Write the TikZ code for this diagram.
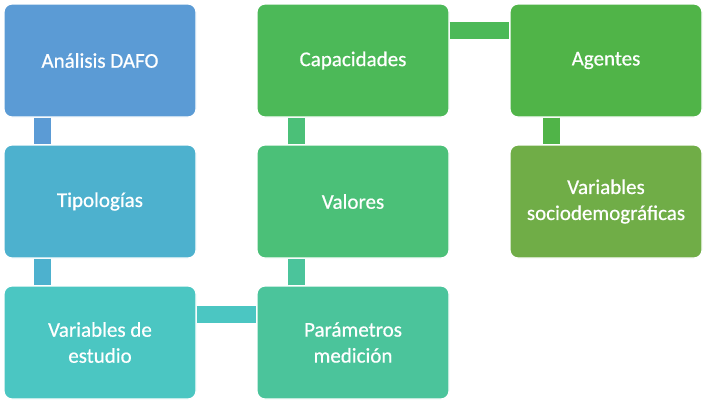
\documentclass[tikz,border=0pt]{standalone}
\usepackage{fontspec}
\setmainfont{Carlito}
\newfontfamily\boxfont{Carlito}[FakeBold=0.6]
\definecolor{cA}{HTML}{5B9BD5}
\definecolor{cB}{HTML}{4DB1CE}
\definecolor{cC}{HTML}{4BC6C2}
\definecolor{cD}{HTML}{4BC49B}
\definecolor{cE}{HTML}{4BC078}
\definecolor{cF}{HTML}{4CB958}
\definecolor{cG}{HTML}{50B448}
\definecolor{cH}{HTML}{70AD47}
\tikzset{
  box/.style={rectangle, rounded corners=8pt, draw=white, line width=1.2pt,
    minimum width=192pt, minimum height=113pt, inner sep=0pt,
    text=white, align=center, font=\boxfont\fontsize{21}{26}\selectfont},
  link/.style={line width=17pt}
}
\begin{document}
\begin{tikzpicture}[x=1pt,y=-1pt]
\useasboundingbox (0,0) rectangle (703,399);
\fill[white] (0,0) rectangle (703,399);
% nodes
\node[box, fill=cA] (dafo) at (100,60.5) {Análisis DAFO};
\node[box, fill=cB] (tipo) at (100,201.5) {Tipologías};
\node[box, fill=cC] (vest) at (100,342.5) {Variables de\\estudio};
\node[box, fill=cD] (param) at (353,342.5) {Parámetros\\medición};
\node[box, fill=cE] (valo) at (353,201.5) {Valores};
\node[box, fill=cF] (capa) at (353,60.5) {Capacidades};
\node[box, fill=cG] (agen) at (606,60.5) {Agentes};
\node[box, fill=cH] (socio) at (606,201.5) {Variables\\sociodemográficas};
% connectors
\draw[link, cA] ([xshift=39pt]dafo.south west) -- ([xshift=39pt]tipo.north west);
\draw[link, cB] ([xshift=39pt]tipo.south west) -- ([xshift=39pt]vest.north west);
\draw[link, cC] ([yshift=-29pt]vest.north east) -- ([yshift=-29pt]param.north west);
\draw[link, cD] ([xshift=40.5pt]param.north west) -- ([xshift=40.5pt]valo.south west);
\draw[link, cE] ([xshift=40.5pt]valo.north west) -- ([xshift=40.5pt]capa.south west);
\draw[link, cF] ([yshift=-27pt]capa.north east) -- ([yshift=-27pt]agen.north west);
\draw[link, cG] ([xshift=42pt]agen.south west) -- ([xshift=42pt]socio.north west);
\end{tikzpicture}
\end{document}
